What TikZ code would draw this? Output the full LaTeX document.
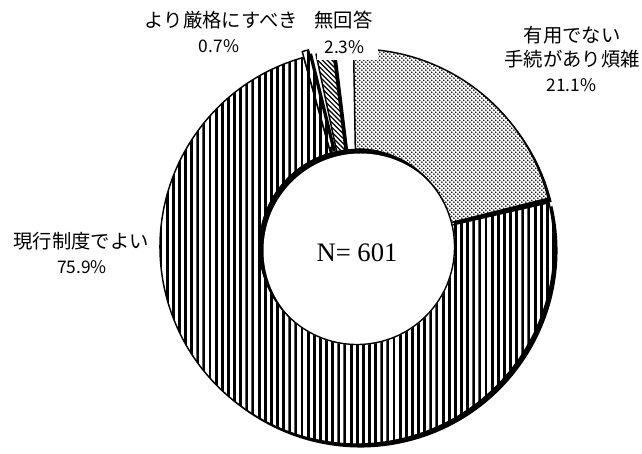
\documentclass[tikz,border=0pt]{standalone}
\usepackage{fontspec}
\setmainfont{Liberation Serif}
\newfontfamily\jpfont{Noto Sans CJK JP}
\usetikzlibrary{patterns}
\pgfdeclarepatternformonly{vstripes}{\pgfqpoint{0pt}{-0.1pt}}{\pgfqpoint{4.6pt}{2.1pt}}{\pgfqpoint{4.6pt}{2pt}}{\pgfpathrectangle{\pgfqpoint{0pt}{-0.1pt}}{\pgfqpoint{2.2pt}{2.2pt}}\pgfusepath{fill}}
\pgfdeclarepatternformonly{gdots}{\pgfqpoint{0pt}{0pt}}{\pgfqpoint{3.2pt}{3.2pt}}{\pgfqpoint{3.2pt}{3.2pt}}{\pgfpathcircle{\pgfqpoint{0.8pt}{0.8pt}}{0.78pt}\pgfpathcircle{\pgfqpoint{2.4pt}{2.4pt}}{0.78pt}\pgfusepath{fill}}
\pgfdeclarepatternformonly{bhatch}{\pgfqpoint{-1pt}{-1pt}}{\pgfqpoint{4.6pt}{4.6pt}}{\pgfqpoint{3.6pt}{3.6pt}}{\pgfsetlinewidth{0.9pt}\pgfpathmoveto{\pgfqpoint{0pt}{3.6pt}}\pgfpathlineto{\pgfqpoint{3.7pt}{-0.1pt}}\pgfusepath{stroke}}
\newcommand\slpath[4]{([shift={(#1,#2)}]#3:197) arc[start angle=#3,end angle=#4,radius=197] -- ([shift={(#1,#2)}]#4:97) arc[start angle=#4,end angle=#3,radius=97] -- cycle}
\tikzset{
  shadowfill/.style={fill=black},
  stripeface/.style={preaction={fill=white}, pattern=vstripes, draw=black, line width=1.1pt, line join=round},
  dotface/.style={preaction={fill=white}, pattern=gdots, draw=black, line width=1.1pt, line join=round},
  hatchface/.style={preaction={fill=white}, pattern=bhatch, draw=black, line width=1.1pt, line join=round},
  lbl/.style={font=\jpfont\fontsize{14.5}{17}\selectfont, inner sep=0pt},
  pct/.style={font=\jpfont\fontsize{13}{15}\selectfont, inner sep=0pt},
  ntext/.style={font=\fontsize{20}{24}\selectfont, inner sep=0pt}
}
\begin{document}
\begin{tikzpicture}[x=0.75pt,y=0.75pt]
\useasboundingbox (0,0) rectangle (642,453);
\fill[white] (0,0) rectangle (642,453);
% shadows
\fill[shadowfill] \slpath{360.5}{202.5}{105.7}{373};
\fill[shadowfill] \slpath{360.5}{203.5}{14}{91};
\fill[shadowfill] \slpath{360.5}{202.5}{97}{102};
\fill[shadowfill] \slpath{359}{208.3}{103.8}{105.7};
% slices
\path[stripeface] \slpath{357}{206}{105.7}{373};
\path[dotface] \slpath{357}{207}{14}{91};
\path[hatchface] \slpath{357}{206}{97}{102};
\path[stripeface] \slpath{355.5}{211.8}{103.8}{105.7};
% hole
\fill[black] (357,206) circle (98);
\begin{scope}
  \clip (357,206) circle (98);
  \fill[white] (360.5,202.5) circle (97);
\end{scope}
\draw[line width=1pt] (357,206) circle (97.5);
% label background
\fill[white] (316.5,393) rectangle (378,453);
% labels
\node[lbl] (strict) at (221.5,433) {より厳格にすべき};
\node[pct] (strictp) at (219,406.5) {0.7\%};
\node[lbl] (noans) at (343.5,433) {無回答};
\node[pct] (noansp) at (344.5,406) {2.3\%};
\node[lbl] (useless1) at (572,418) {有用でない};
\node[lbl] (useless2) at (572,394) {手続があり煩雑};
\node[pct] (uselessp) at (571.5,368) {21.1\%};
\node[lbl] (current) at (81,212) {現行制度でよい};
\node[pct] (currentp) at (82,186) {75.9\%};
\node[ntext] (total) at (357,200) {N= 601};
\end{tikzpicture}
\end{document}
